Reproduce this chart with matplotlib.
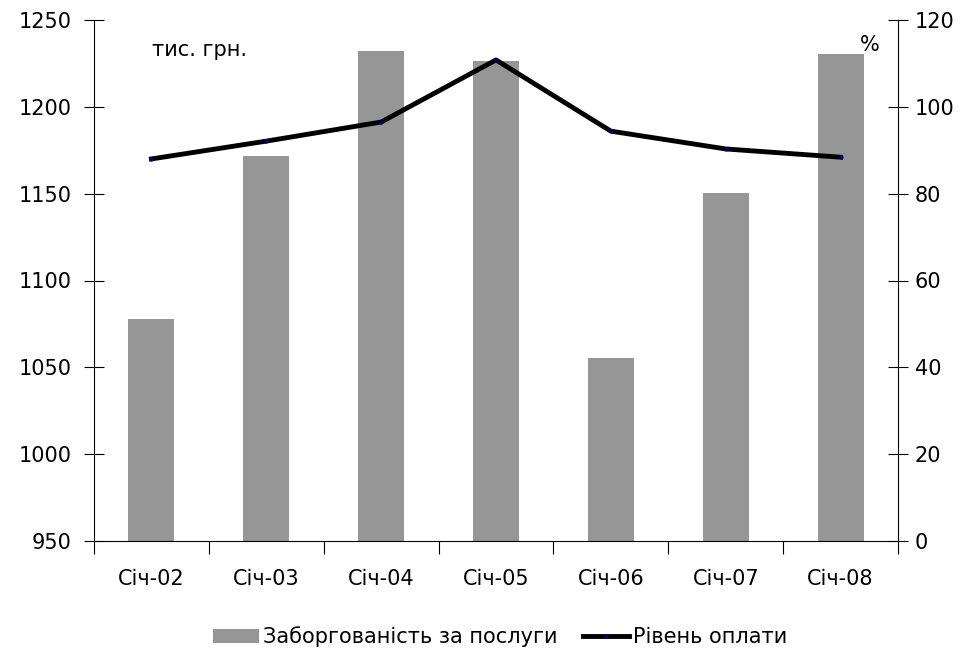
import matplotlib
matplotlib.use("Agg")
import matplotlib.pyplot as plt
import numpy as np

categories = ["Січ-02", "Січ-03", "Січ-04", "Січ-05", "Січ-06", "Січ-07", "Січ-08"]
debt = [1078, 1171.5, 1232, 1226.5, 1055.5, 1150.5, 1230.5]
payment = [88.0, 92.1, 96.5, 110.8, 94.4, 90.3, 88.4]

FS = 15
plt.rcParams['font.family'] = ['DejaVu Sans']
fig = plt.figure(figsize=(9.62, 6.51), dpi=100)
ax = fig.add_axes([94/962, 1 - 541/651, (898-94)/962, (541-20)/651])
x = np.arange(len(categories))
bars = ax.bar(x, debt, width=0.4, color='#969696', bottom=0, zorder=2, label='Заборгованість за послуги')
ax.set_ylim(950, 1250)
ax.set_xlim(-0.5, len(categories) - 0.5)
ax.set_yticks(np.arange(950, 1251, 50))
ax.set_xticks(x)
ax.set_xticklabels(categories)
ax.set_xticks(np.arange(-0.5, len(categories), 1), minor=True)
ax.tick_params(axis='x', which='major', length=0, pad=20, labelsize=FS)
ax.tick_params(axis='x', which='minor', length=9, direction='out', width=0.8)
ax.tick_params(axis='y', length=14, direction='inout', labelsize=FS, pad=9, width=0.8)
ax.spines['top'].set_visible(False)
ax.spines['right'].set_visible(False)
for s in ['left', 'bottom']:
    ax.spines[s].set_linewidth(0.8)

ax2 = ax.twinx()
line, = ax2.plot(x, payment, color='black', linewidth=3.5, marker='o', markersize=2,
                 markerfacecolor='#000080', markeredgecolor='#000080', zorder=3,
                 label='Рівень оплати')
ax2.set_ylim(0, 120)
ax2.set_yticks(np.arange(0, 121, 20))
ax2.tick_params(axis='y', length=14, direction='inout', labelsize=FS, pad=5, width=0.8)
ax2.spines['top'].set_visible(False)
ax2.spines['left'].set_visible(False)
ax2.spines['bottom'].set_visible(False)
ax2.spines['right'].set_linewidth(0.8)

ax.text(58/804, 1 - 30/521, 'тис. грн.', transform=ax.transAxes, fontsize=FS, va='center', ha='left')
ax.text(766/804, 1 - 25/521, '%', transform=ax.transAxes, fontsize=FS, va='center', ha='left')

fig.legend([bars, line], ['Заборгованість за послуги', 'Рівень оплати'],
           loc='center', bbox_to_anchor=(0.52, 1 - 637/651), ncol=2, frameon=False,
           fontsize=FS, handlelength=2.2, handletextpad=0.2, columnspacing=1.2)
fig.savefig('out.png', dpi=100)
